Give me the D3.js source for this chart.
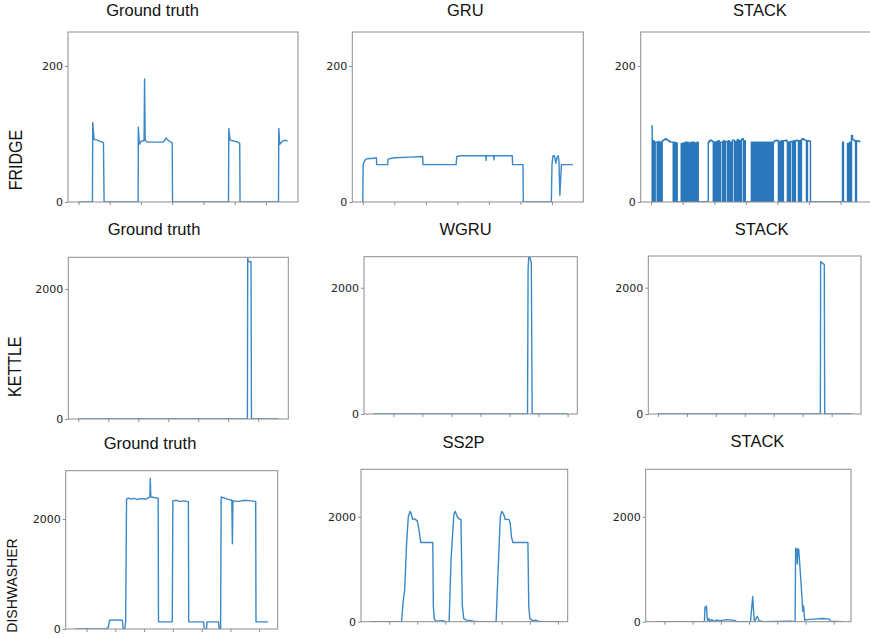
<!DOCTYPE html>
<html><head><meta charset="utf-8">
<script src="https://cdn.jsdelivr.net/npm/d3@7/dist/d3.min.js"></script>
<style>body{margin:0;background:#fff}svg{display:block}</style>
</head><body>
<svg id="chart" width="870" height="638"></svg>
<script>
// ---------- DATA ----------
const rowLabels = ["FRIDGE", "KETTLE", "DISHWASHER"];
const panelTitles = [["Ground truth", "GRU", "STACK"], ["Ground truth", "WGRU", "STACK"], ["Ground truth", "SS2P", "STACK"]];
const fridgeTicksY = [0, 200];
const kettleTicksY = [0, 2000];
const dishTicksY = [0, 2000];
const xTickValues = [0, 1, 2, 3, 4, 5, 6];

const fridgeTruth = [[0,0],[0.447,0],[0.457,117],[0.5,92],[0.6,91],[0.7,89],[0.78,88],[0.8,87],[0.82,0],[1.91,0],[1.915,110],[1.95,85],[2.0,89],[2.05,90],[2.1,90],[2.115,181],[2.135,91],[2.2,88],[2.5,88],[2.7,88],[2.76,90],[2.8,94],[2.86,91],[2.93,89],[3.0,87],[3.01,0],[4.8,0],[4.81,108],[4.85,91],[4.95,90],[5.1,88],[5.16,86],[5.17,0],[6.40,0],[6.41,108],[6.44,85],[6.5,88],[6.55,90],[6.62,91],[6.69,89]];
const fridgeGRU = [[0,0],[0.01,55],[0.05,60],[0.1,63],[0.2,64],[0.3,64],[0.43,65],[0.44,55],[0.79,55],[0.8,63],[1.0,65],[1.5,66],[1.9,67],[1.91,55],[2.96,55],[2.98,67],[3.1,68],[3.9,68],[3.91,61],[3.92,68],[4.15,68],[4.16,62],[4.17,68],[4.74,68],[4.75,55],[5.08,55],[5.09,0],[5.98,0],[6.0,55],[6.03,68],[6.08,68],[6.12,57],[6.16,66],[6.2,68],[6.22,60],[6.25,10],[6.27,30],[6.3,55],[6.66,55]];
// STACK fridge: one sample per step (31.5 samples per tick unit), drawn as steps
const fridgeStackStep = 1 / 31.5;
const fridgeStack = [
 112,0,90,0,88,88,0,89,0,88,
 0,90,91,92,93,92,91,90,89,88,
 88,88,0,88,0,87,0,0,0,0,
 86,0,87,0,88,0,88,0,87,0,
 88,0,88,0,87,0,88,0,0,0,
 0,0,0,0,0,0,0,88,90,91,
 90,89,0,88,0,89,0,90,0,88,
 88,0,90,0,89,89,0,90,0,88,
 0,91,91,0,89,0,92,0,90,0,
 92,93,0,90,0,0,0,0,0,0,
 88,0,88,0,88,0,88,0,88,0,
 88,0,88,0,88,0,88,0,88,0,
 88,0,88,90,90,91,90,0,89,0,
 90,0,90,90,91,90,0,88,0,89,
 89,0,90,0,90,91,90,0,90,0,
 92,93,92,91,91,0,90,90,89,0,
 0,0,0,0,0,0,0,0,0,0,
 0,0,0,0,0,0,0,0,0,0,
 0,0,0,0,0,0,0,0,0,0,
 0,88,0,0,0,0,86,0,88,0,
 98,92,91,90,0,90,90,89,89,89
];

const kettleTruth = [[0,0],[5.64,0],[5.65,2490],[5.665,2430],[5.7,2420],[5.76,2420],[5.775,0],[6.67,0]];
const kettleWGRU = [[-0.676,0],[4.62,0],[4.64,2300],[4.66,2470],[4.69,2510],[4.72,2440],[4.75,2400],[4.78,0],[6.0,0]];
const kettleStack = [[0,0],[5.61,0],[5.62,2410],[5.66,2400],[5.7,2380],[5.745,2370],[5.76,0],[6.68,0]];

const dishTruth = [[-0.39,0],[0.7,0],[0.76,40],[0.8,160],[1.0,165],[1.2,160],[1.25,150],[1.27,0],[1.33,0],[1.36,140],[1.39,2360],[1.45,2380],[1.55,2360],[1.65,2375],[1.75,2355],[1.9,2370],[2.05,2360],[2.15,2385],[2.2,2400],[2.215,2740],[2.235,2400],[2.35,2390],[2.49,2380],[2.5,130],[2.98,130],[3.0,2330],[3.1,2340],[3.25,2320],[3.4,2330],[3.54,2310],[3.55,130],[4.07,130],[4.09,0],[4.17,0],[4.19,130],[4.59,130],[4.61,0],[4.66,0],[4.68,2400],[4.8,2380],[4.9,2360],[5.05,2340],[5.07,1550],[5.09,2330],[5.3,2320],[5.5,2340],[5.7,2330],[5.88,2320],[5.89,130],[6.31,130]];
const dishSS2P = [[-0.667,0],[0.44,0],[0.5,400],[0.55,600],[0.62,1500],[0.68,2000],[0.74,2100],[0.79,2050],[0.83,1950],[0.9,1960],[0.95,1940],[1.0,1920],[1.06,1750],[1.12,1510],[1.55,1510],[1.57,300],[1.6,60],[1.65,20],[1.75,10],[1.9,20],[2.0,5],[2.13,0],[2.2,1200],[2.3,2050],[2.35,2100],[2.42,2000],[2.5,1950],[2.55,1950],[2.6,300],[2.65,60],[2.75,30],[2.9,20],[3.0,10],[3.2,0],[3.8,0],[3.88,1100],[3.95,2000],[4.0,2100],[4.07,2050],[4.12,1950],[4.25,1950],[4.3,1880],[4.35,1600],[4.4,1510],[4.93,1510],[4.96,300],[5.0,60],[5.1,20],[5.2,30],[5.3,10],[5.5,0],[6.01,0]];
const dishStack = [[-0.33,0],[1.42,0],[1.44,280],[1.47,250],[1.49,300],[1.52,50],[1.55,20],[1.58,60],[1.62,10],[1.68,40],[1.75,10],[1.85,30],[2.0,20],[2.2,40],[2.4,30],[2.52,20],[2.55,0],[3.05,0],[3.1,300],[3.13,480],[3.16,200],[3.19,0],[3.27,80],[3.3,100],[3.35,20],[3.5,0],[4.5,10],[4.6,0],[4.63,0],[4.65,1400],[4.68,1380],[4.71,1100],[4.73,1390],[4.76,1380],[4.82,900],[4.87,500],[4.9,200],[4.93,300],[4.97,30],[5.05,40],[5.3,50],[5.6,60],[5.85,50],[5.88,10],[6.28,0]];

const yTops = [[250, 250, 250], [2488, 2491, 2502], [2878, 2903, 2905]];

// ---------- LAYOUT ----------
const frames = [
  [[68, 32, 298, 202], [352.3, 32, 583.3, 202], [640.7, 32, 871, 202]],
  [[68.3, 257.3, 288.3, 419], [364, 256.7, 577.3, 414], [648.3, 256, 861, 414]],
  [[65.7, 470.7, 277.7, 629], [361, 469.3, 567.7, 621.7], [645.7, 469.3, 851, 621.7]]
];
const titlePos = [
  [[152.5, 16], [465.3, 16], [760, 16]],
  [[154, 235], [465.5, 235], [761.7, 235]],
  [[150, 449], [463.5, 448], [757.5, 447.3]]
];
const rowLabelPos = [[21.7, 160, 16, 1.2], [20.7, 366.7, 16, 1.16], [16.5, 585.5, 14, 1.05]];
const stepped = [[false, false, true], [false, false, false], [false, false, false]];

const series = [
  [fridgeTruth, fridgeGRU, fridgeStack.map((v, i) => [i * fridgeStackStep, v])],
  [kettleTruth, kettleWGRU, kettleStack],
  [dishTruth, dishSS2P, dishStack]
];
const yTickSets = [fridgeTicksY, kettleTicksY, dishTicksY];

const svg = d3.select("#chart");
const lineColor = "#3a88c8";
const frameColor = "#8c8c8c";

series.forEach((row, r) => {
  row.forEach((data, c) => {
    const [l, t, rr, b] = frames[r][c];
    const ext = d3.extent(data, d => d[0]);
    const pad = (ext[1] - ext[0]) * 0.05;
    const x = d3.scaleLinear().domain([ext[0] - pad, ext[1] + pad]).range([l, rr]);
    const y = d3.scaleLinear().domain([0, yTops[r][c]]).range([b, t]);
    const g = svg.append("g");
    const cid = `clip${r}${c}`;
    g.append("clipPath").attr("id", cid).append("rect")
      .attr("x", l).attr("y", t).attr("width", rr - l).attr("height", b - t);

    const line = d3.line().x(d => x(d[0])).y(d => y(d[1]))
      .curve(stepped[r][c] ? d3.curveStepAfter : d3.curveLinear);
    g.append("path").datum(data)
      .attr("clip-path", `url(#${cid})`)
      .attr("fill", "none").attr("stroke", stepped[r][c] ? "#2a78bb" : lineColor)
      .attr("stroke-width", 1.4).attr("stroke-linejoin", "round")
      .attr("d", line);

    g.append("rect").attr("x", l).attr("y", t).attr("width", rr - l).attr("height", b - t)
      .attr("fill", "none").attr("stroke", frameColor).attr("stroke-width", 1);

    const ya = g.append("g").attr("transform", `translate(${l},0)`)
      .call(d3.axisLeft(y).tickValues(yTickSets[r]).tickSize(3).tickPadding(2).tickFormat(d3.format("d")));
    ya.select(".domain").remove();
    ya.selectAll("line").attr("stroke", frameColor);
    ya.selectAll("text").attr("font-family", "DejaVu Sans, sans-serif").attr("font-size", 11).attr("fill", "#222");

    const xa = g.append("g").attr("transform", `translate(0,${b})`)
      .call(d3.axisBottom(x).tickValues(xTickValues).tickSize(3).tickFormat(""));
    xa.select(".domain").remove();
    xa.selectAll("line").attr("stroke", frameColor);

    svg.append("text").attr("x", titlePos[r][c][0]).attr("y", titlePos[r][c][1])
      .attr("text-anchor", "middle").attr("font-family", "Liberation Sans, Arial, sans-serif")
      .attr("font-size", 16.5).attr("fill", "#111").text(panelTitles[r][c]);
  });
  const [lx, ly, fs, sc] = rowLabelPos[r];
  svg.append("text").attr("transform", `translate(${lx},${ly}) rotate(-90) scale(1,${sc})`)
    .attr("text-anchor", "middle").attr("font-family", "Liberation Sans, Arial, sans-serif")
    .attr("font-size", fs).attr("fill", "#111").text(rowLabels[r]);
});
</script>
</body></html>
